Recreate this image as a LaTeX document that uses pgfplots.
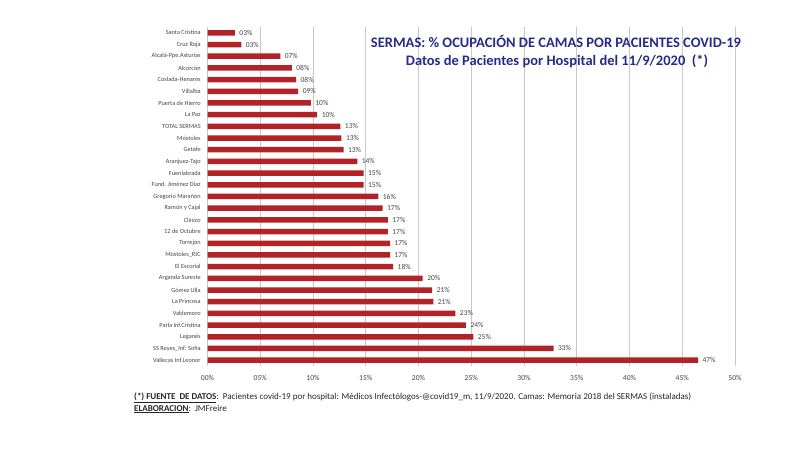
\documentclass[border=0pt]{standalone}
\usepackage{pgfplots}
\pgfplotsset{compat=1.18}
\usepackage{pgfplotstable}
\usepackage{fontspec}
\setmainfont{Carlito}
\definecolor{barred}{RGB}{178,34,39}
\definecolor{navy}{RGB}{40,42,140}
\definecolor{txtgrey}{RGB}{70,70,70}
\definecolor{gridgrey}{RGB}{200,200,200}
\pgfplotstableread[col sep=comma]{
name,val,lab
Vallecas Inf.Leonor,46.5,47\%
SS Reyes\_Inf. Sofía,32.8,33\%
Leganés,25.2,25\%
Parla Inf.Cristina,24.5,24\%
Valdemoro,23.5,23\%
La Princesa,21.4,21\%
Gómez Ulla,21.3,21\%
Arganda Sureste,20.4,20\%
El Escorial,17.6,18\%
Mostoles\_RJC,17.3,17\%
Torrejón,17.3,17\%
12 de Octubre,17.1,17\%
Clínico,17.1,17\%
Ramón y Cajal,16.6,17\%
Gregorio Marañón,16.2,16\%
Fund. Jiménez Díaz,14.8,15\%
Fuenlabrada,14.8,15\%
Aranjuez-Tajo,14.2,14\%
Getafe,12.9,13\%
Móstoles,12.7,13\%
TOTAL SERMAS,12.6,13\%
La Paz,10.4,10\%
Puerta de Hierro,9.8,10\%
Villalba,8.6,09\%
Coslada-Henares,8.4,08\%
Alcorcón,8.0,08\%
Alcalá-Ppe.Asturias,6.9,07\%
Cruz Roja,3.2,03\%
Santa Cristina,2.6,03\%
}\datatable
\begin{document}
\begin{tikzpicture}[x=1pt,y=1pt]
\path[use as bounding box, fill=white] (0,0) rectangle (800,450);
\begin{axis}[
  at={(207.5pt,84pt)}, anchor=south west,
  scale only axis, width=527.5pt, height=339pt,
  xmin=0, xmax=50, ymin=-0.5, ymax=28.5,
  axis line style={draw=none},
  xtick={0,5,...,50},
  xticklabels={00\%,05\%,10\%,15\%,20\%,25\%,30\%,35\%,40\%,45\%,50\%},
  ytick={0,...,28},
  yticklabels from table={\datatable}{name},
  xmajorgrids, major grid style={gridgrey, line width=0.6pt},
  tick style={draw=none},
  xticklabel style={font=\fontsize{7.6}{9}\selectfont, text=txtgrey, yshift=-6pt},
  yticklabel style={font=\fontsize{6.3}{7}\selectfont, text=txtgrey, xshift=1pt},
  /pgf/number format/assume math mode=true,
  xbar, bar width=5.5pt,
  nodes near coords,
  point meta=explicit symbolic,
  every node near coord/.append style={font=\fontsize{7.5}{8}\selectfont, text=txtgrey, anchor=west, xshift=1pt},
]
\addplot[fill=barred, draw=none] table[x=val, y expr=\coordindex, meta=lab] {\datatable};
\end{axis}
\node[text=navy, font=\fontsize{14.5}{16}\selectfont\bfseries] at (556,409) {SERMAS: \% OCUPACIÓN DE CAMAS POR PACIENTES COVID-19};
\node[text=navy, font=\fontsize{14.5}{16}\selectfont\bfseries] at (557,389) {Datos de Pacientes por Hospital del 11/9/2020\ \ (*)};
\node[anchor=west, inner sep=0pt, font=\fontsize{9}{10}\selectfont, text=black!85] at (134,52) {\textbf{\underline{(*) FUENTE\ \ DE DATOS}}:\ \ Pacientes\ covid-19 por hospital: Médicos Infectólogos-@covid19\_m, 11/9/2020. Camas: Memoria 2018 del SERMAS (instaladas)};
\node[anchor=west, inner sep=0pt, font=\fontsize{9}{10}\selectfont, text=black!85] at (134,41) {\textbf{\underline{ELABORACION}}:\ \ JMFreire};
\end{tikzpicture}
\end{document}
